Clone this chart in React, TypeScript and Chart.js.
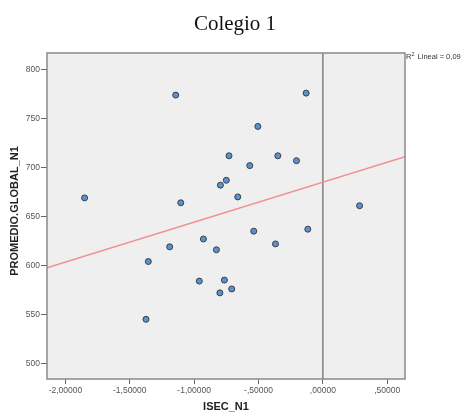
import React, { useEffect, useRef } from "react";
import { Chart, registerables } from "chart.js";

Chart.register(...registerables);

// ISEC_N1 values (x) and PROMEDIO.GLOBAL_N1 values (y)
const isecValues = [
  -1.851, -1.143, -1.104, -1.374, -1.356, -1.19, -0.96, -0.928, -0.827, -0.8,
  -0.796, -0.765, -0.75, -0.729, -0.708, -0.661, -0.568, -0.537, -0.505, -0.368,
  -0.35, -0.205, -0.13, -0.117, 0.285,
];
const promedioValues = [
  669, 774, 664, 545, 604, 619, 584, 627, 616, 572,
  682, 585, 687, 712, 576, 670, 702, 635, 742, 622,
  712, 707, 776, 637, 661,
];

// Linear fit
const fitIntercept = 685;
const fitSlope = 40.8;
const r2Label = "R² Lineal = 0,09";

const chartTitle = "Colegio 1";
const xTitle = "ISEC_N1";
const yTitle = "PROMEDIO.GLOBAL_N1";

const xMin = -2.143;
const xMax = 0.638;
const yMin = 484;
const yMax = 817;

const xTickValues = [-2, -1.5, -1, -0.5, 0, 0.5];
const xTickLabels = ["-2,00000", "-1,50000", "-1,00000", "-,50000", ",00000", ",50000"];
const yTickValues = [500, 550, 600, 650, 700, 750, 800];
const yTickLabels = ["500", "550", "600", "650", "700", "750", "800"];

export default function App() {
  const ref = useRef<HTMLCanvasElement | null>(null);

  useEffect(() => {
    if (!ref.current) return;
    const points = isecValues.map((x, i) => ({ x, y: promedioValues[i] }));
    const fitData = [
      { x: xMin, y: fitIntercept + fitSlope * xMin },
      { x: xMax, y: fitIntercept + fitSlope * xMax },
    ];

    const decor = {
      id: "decor",
      beforeDraw(chart: any) {
        const { ctx, chartArea: a } = chart;
        ctx.save();
        ctx.fillStyle = "#efefef";
        ctx.fillRect(a.left, a.top, a.right - a.left, a.bottom - a.top);
        ctx.restore();
      },
      beforeDatasetsDraw(chart: any) {
        const { ctx, chartArea: a, scales } = chart;
        const x0 = scales.x.getPixelForValue(0);
        ctx.save();
        ctx.strokeStyle = "#808080";
        ctx.lineWidth = 1.5;
        ctx.beginPath();
        ctx.moveTo(x0, a.top);
        ctx.lineTo(x0, a.bottom);
        ctx.stroke();
        ctx.restore();
      },
      afterDraw(chart: any) {
        const { ctx, chartArea: a } = chart;
        ctx.save();
        ctx.strokeStyle = "#8a8a8a";
        ctx.lineWidth = 1.5;
        ctx.strokeRect(a.left, a.top, a.right - a.left, a.bottom - a.top);

        // title
        ctx.fillStyle = "#111";
        ctx.font = '21px "Liberation Serif", "Times New Roman", serif';
        ctx.textAlign = "center";
        ctx.textBaseline = "alphabetic";
        ctx.fillText(chartTitle, 235, 30);

        // axis titles
        ctx.font = 'bold 11px "Liberation Sans", Arial, sans-serif';
        ctx.fillStyle = "#222";
        ctx.textBaseline = "middle";
        ctx.fillText(xTitle, (a.left + a.right) / 2, 407);
        ctx.save();
        ctx.translate(15, 211);
        ctx.rotate(-Math.PI / 2);
        ctx.fillText(yTitle, 0, 0);
        ctx.restore();

        // R² label
        ctx.textAlign = "left";
        ctx.textBaseline = "middle";
        ctx.fillStyle = "#333";
        const parts = r2Label.split("²");
        let x = a.right + 1;
        const yy = 57;
        ctx.font = '7.5px "Liberation Sans", Arial, sans-serif';
        ctx.fillText(parts[0], x, yy);
        x += ctx.measureText(parts[0]).width;
        ctx.font = '5.5px "Liberation Sans", Arial, sans-serif';
        ctx.fillText("2", x, yy - 2.5);
        x += ctx.measureText("2").width + 1;
        ctx.font = '7.5px "Liberation Sans", Arial, sans-serif';
        ctx.fillText(parts[1], x, yy);
        ctx.restore();
      },
    };

    const tickFont = { family: '"Liberation Sans", Arial, sans-serif', size: 8.5 };

    const chart = new Chart(ref.current, {
      type: "scatter",
      data: {
        datasets: [
          {
            type: "scatter",
            data: points,
            backgroundColor: "#5b92cc",
            borderColor: "#3a3f47",
            borderWidth: 1,
            pointRadius: 3,
            order: 0,
          } as any,
          {
            type: "line",
            data: fitData,
            borderColor: "#f29090",
            borderWidth: 1.4,
            pointRadius: 0,
            fill: false,
            order: 1,
          } as any,
        ],
      },
      options: {
        animation: false,
        responsive: false,
        devicePixelRatio: 1,
        layout: { padding: { top: 53, right: 58, left: 0, bottom: 0 } },
        plugins: {
          legend: { display: false },
          tooltip: { enabled: false },
          title: { display: false },
        },
        scales: {
          x: {
            type: "linear",
            min: xMin,
            max: xMax,
            afterFit: (s: any) => {
              s.height = 38;
            },
            afterBuildTicks: (s: any) => {
              s.ticks = xTickValues.map((v) => ({ value: v }));
            },
            ticks: {
              callback: (_v: any, i: number) => xTickLabels[i],
              font: tickFont,
              color: "#555",
              padding: 2,
              maxRotation: 0,
              autoSkip: false,
            },
            grid: {
              drawOnChartArea: false,
              drawTicks: true,
              tickLength: 5,
              color: "#666",
            },
            border: { display: false },
          },
          y: {
            type: "linear",
            min: yMin,
            max: yMax,
            afterFit: (s: any) => {
              s.width = 47;
            },
            afterBuildTicks: (s: any) => {
              s.ticks = yTickValues.map((v) => ({ value: v }));
            },
            ticks: {
              callback: (_v: any, i: number) => yTickLabels[i],
              font: tickFont,
              color: "#555",
              padding: 1,
              autoSkip: false,
            },
            grid: {
              drawOnChartArea: false,
              drawTicks: true,
              tickLength: 6,
              color: "#666",
            },
            border: { display: false },
          },
        },
      },
      plugins: [decor],
    });
    return () => chart.destroy();
  }, []);

  return (
    <div style={{ position: "absolute", left: 0, top: 0, width: 463, height: 417, background: "#fff" }}>
      <canvas ref={ref} width={463} height={417} style={{ width: 463, height: 417, display: "block" }} />
    </div>
  );
}
